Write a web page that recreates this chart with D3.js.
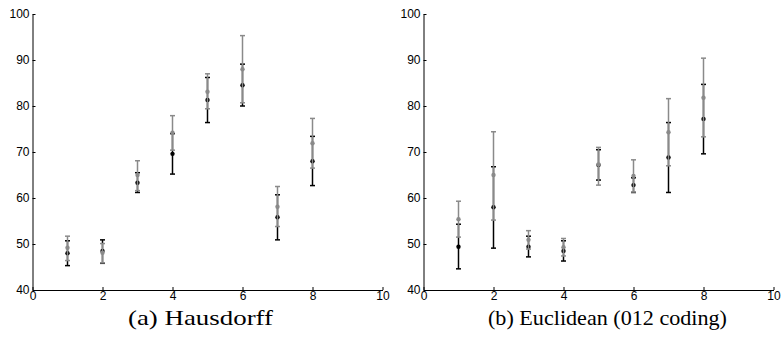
<!DOCTYPE html>
<html>
<head>
<meta charset="utf-8">
<script src="https://cdn.jsdelivr.net/npm/d3@7"></script>
<style>
  body { margin: 0; background: #fff; }
  svg text { font-family: "Liberation Sans", Arial, sans-serif; }
  .caption { font-family: "Liberation Serif", "DejaVu Serif", serif; }
</style>
</head>
<body>
<div id="chart"></div>
<script>
var xs = [1, 2, 3, 4, 5, 6, 7, 8];
var xTicks = [0, 2, 4, 6, 8, 10];
var yTicks = [40, 50, 60, 70, 80, 90, 100];

// panel (a) Hausdorff: [mean, lower, upper]
var hausBlack = [[48.0, 45.3, 50.7], [48.5, 45.8, 50.9], [63.3, 61.2, 65.5], [69.6, 65.2, 74.0],
                 [81.3, 76.4, 86.2], [84.5, 80.0, 89.1], [55.8, 50.9, 60.7], [68.0, 62.7, 73.4]];
var hausGray  = [[49.2, 46.4, 51.7], [48.1, 45.9, 50.1], [65.0, 61.6, 68.1], [74.2, 70.4, 77.9],
                 [83.1, 79.4, 87.0], [88.0, 80.7, 95.3], [58.1, 53.8, 62.5], [71.9, 66.5, 77.3]];

// panel (b) Euclidean (012 coding)
var euclBlack = [[49.4, 44.6, 54.3], [58.0, 49.1, 66.8], [49.4, 47.2, 51.7], [48.5, 46.3, 50.7],
                 [67.2, 63.9, 70.5], [62.8, 61.2, 64.4], [68.8, 61.2, 76.4], [77.2, 69.6, 84.7]];
var euclGray  = [[55.4, 51.5, 59.3], [65.0, 55.2, 74.4], [50.9, 48.9, 52.9], [49.3, 47.4, 51.2],
                 [67.3, 62.8, 71.0], [64.8, 61.3, 68.3], [74.3, 67.0, 81.6], [81.8, 73.3, 90.4]];

var panels = [
  {left: 32.5, right: 382.5, caption: "(a) Hausdorff", capX: 200.5, capW: 145, black: hausBlack, gray: hausGray},
  {left: 423.5, right: 773.5, caption: "(b) Euclidean (012 coding)", capX: 607.5, capW: 239, black: euclBlack, gray: euclGray}
];

var svg = d3.select("#chart").append("svg")
  .attr("width", 782)
  .attr("height", 341);

var y = d3.scaleLinear().domain([40, 100]).range([290, 14]);

panels.forEach(function(p) {
  var x = d3.scaleLinear().domain([0, 10]).range([p.left, p.right]);
  var g = svg.append("g");

  var yAxis = d3.axisLeft(y).tickValues(yTicks).tickSizeInner(-3).tickSizeOuter(0).tickPadding(3);
  var xAxis = d3.axisBottom(x).tickValues(xTicks).tickSizeInner(-3).tickSizeOuter(0).tickPadding(5);

  g.append("g").attr("transform", "translate(" + p.left + ",0)").call(yAxis)
    .call(function(a) { a.selectAll("text").attr("font-size", 12).attr("fill", "#000").attr("dy", "0.25em"); });
  g.append("g").attr("transform", "translate(0,290)").call(xAxis)
    .call(function(a) { a.selectAll("text").attr("font-size", 12).attr("fill", "#000").attr("dy", "0.45em"); });
  g.selectAll(".domain").attr("stroke", "#000");

  drawSeries(g, x, p.black, "#000");
  drawSeries(g, x, p.gray, "#8a8a8a");

  g.append("text")
    .attr("class", "caption")
    .attr("x", p.capX)
    .attr("y", 325)
    .attr("text-anchor", "middle")
    .attr("font-size", 21)
    .attr("textLength", p.capW)
    .attr("lengthAdjust", "spacingAndGlyphs")
    .text(p.caption);
});

function drawSeries(g, x, vals, color) {
  var s = g.append("g");
  var d = vals.map(function(v, i) { return {x: xs[i], m: v[0], lo: v[1], hi: v[2]}; });
  s.selectAll(".bar").data(d).enter().append("line")
    .attr("x1", function(e) { return x(e.x); })
    .attr("x2", function(e) { return x(e.x); })
    .attr("y1", function(e) { return y(e.lo); })
    .attr("y2", function(e) { return y(e.hi); })
    .attr("stroke", color).attr("stroke-width", 1.5);
  ["lo", "hi"].forEach(function(k) {
    s.selectAll(".cap" + k).data(d).enter().append("line")
      .attr("x1", function(e) { return x(e.x) - 2.5; })
      .attr("x2", function(e) { return x(e.x) + 2.5; })
      .attr("y1", function(e) { return y(e[k]); })
      .attr("y2", function(e) { return y(e[k]); })
      .attr("stroke", color).attr("stroke-width", 1.5);
  });
  s.selectAll("circle").data(d).enter().append("circle")
    .attr("cx", function(e) { return x(e.x); })
    .attr("cy", function(e) { return y(e.m); })
    .attr("r", 2.2)
    .attr("fill", color);
}
</script>
</body>
</html>
